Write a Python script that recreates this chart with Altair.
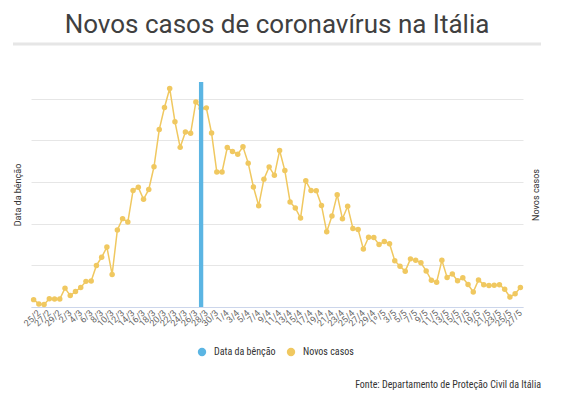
import datetime as dt
import altair as alt
import pandas as pd

# ---- data -------------------------------------------------------------
start = dt.date(2020, 2, 24)
n_days = 94
dias = []
for i in range(n_days):
    d = start + dt.timedelta(days=i)
    dias.append("1º/5" if (d.month == 5 and d.day == 1) else f"{d.day}/{d.month}")

novos_casos = [
    221, 93, 78, 250, 238, 240,
    566, 342, 466, 587, 769, 778, 1247, 1492, 1797, 977, 2313, 2651, 2547, 3497,
    3590, 3233, 3526, 4207, 5322, 5986, 6557, 5560, 4789, 5249, 5210, 6153, 5959,
    5974, 5217, 4050, 4053,
    4782, 4668, 4585, 4805, 4316, 3599, 3039, 3836, 4204, 3951, 4694, 4092, 3153,
    2972, 2667, 3786, 3493, 3491, 3047, 2256, 2729, 3370, 2646, 3021, 2357, 2324,
    1739, 2091, 2086, 1872,
    1965, 1900, 1389, 1221, 1075, 1444, 1401, 1327, 1083, 802, 744, 1402, 888, 992,
    789, 875, 675, 451, 813, 665, 642, 652, 669, 531, 300, 397, 584,
]
dia_bencao = ["27/3"]
valor_bencao = [6750]
rotulos_x = dias[1::2]
series = ["Data da bênção", "Novos casos"]
cores = ["#5BB5E3", "#F0C860"]
grade_y = [0, 1250, 2500, 3750, 5000, 6250]
y_max = 6750

df_casos = pd.DataFrame({"dia": dias, "valor": novos_casos, "serie": series[1]})
df_bencao = pd.DataFrame({"dia": dia_bencao, "valor": valor_bencao, "serie": series[0]})

FONT = "Roboto"
NARROW = "Roboto Condensed, Liberation Sans Narrow, Arial Narrow, Roboto"

x_enc = alt.X(
    "dia:N",
    sort=dias,
    scale=alt.Scale(type="band", domain=dias, paddingInner=0, paddingOuter=0),
    axis=alt.Axis(
        values=rotulos_x, title=None, labelAngle=-45, labelAlign="right",
        labelBaseline="middle", labelFontSize=9, labelFont=FONT,
        labelColor="#666666", ticks=False, grid=False, domainColor="#ccd6eb",
        labelPadding=4, labelOverlap=False,
    ),
)
color_enc = alt.Color(
    "serie:N",
    scale=alt.Scale(domain=series, range=cores),
    legend=alt.Legend(
        title=None, orient="none", legendX=166, legendY=265, direction="horizontal",
        symbolType="circle", symbolSize=70, symbolStrokeWidth=0, labelFont=NARROW,
        labelFontSize=10, labelColor="#333333", columnPadding=10, padding=0,
        labelOffset=7,
    ),
)

bar = alt.Chart(df_bencao).mark_bar(size=4.3).encode(
    x=x_enc,
    y=alt.Y(
        "valor:Q",
        scale=alt.Scale(domain=[0, y_max], nice=False),
        axis=alt.Axis(
            orient="left", title="Data da bênção", labels=False, ticks=False,
            domain=False, grid=False, titleFont=FONT, titleFontSize=9,
            titleFontWeight="normal", titleColor="#333333", titlePadding=9,
        ),
    ),
    color=color_enc,
)

line = alt.Chart(df_casos).mark_line(
    strokeWidth=1.5,
    point=alt.OverlayMarkDef(filled=True, size=30, opacity=1),
).encode(
    x=x_enc,
    y=alt.Y(
        "valor:Q",
        scale=alt.Scale(domain=[0, y_max], nice=False),
        axis=alt.Axis(
            orient="right", title="Novos casos", labels=False, ticks=False,
            domain=False, grid=True, gridColor="#e6e6e6", values=grade_y,
            titleFont=FONT, titleFontSize=9, titleFontWeight="normal",
            titleColor="#333333", titlePadding=17, titleAngle=270,
            titleBaseline="bottom",
        ),
    ),
    color=color_enc,
)

rule_titulo = alt.Chart(pd.DataFrame({"a": [0]})).mark_rule(
    color="#e6e6e6", strokeWidth=3
).encode(x=alt.value(-18), x2=alt.value(510), y=alt.value(-38))

fonte = alt.Chart(pd.DataFrame({"a": [0]})).mark_text(
    align="right", baseline="middle", font=NARROW, fontSize=10, color="#333333"
).encode(
    x=alt.value(510), y=alt.value(303),
    text=alt.value("Fonte: Departamento de Proteção Civil da Itália"),
)

chart = (
    alt.layer(line, bar, rule_titulo, fonte)
    .resolve_scale(y="independent")
    .properties(
        width=492,
        height=225,
        padding={"left": 23, "top": 74, "right": 25, "bottom": 84},
        autosize=alt.AutoSizeParams(type="none"),
        title=alt.TitleParams(
            "Novos casos de coronavírus na Itália", font=FONT, fontSize=26,
            fontWeight="normal", color="#404040", anchor="middle", offset=5,
        ),
    )
    .configure_view(stroke=None)
)

chart.save("out.html", embed_options={"renderer": "svg", "actions": False})
